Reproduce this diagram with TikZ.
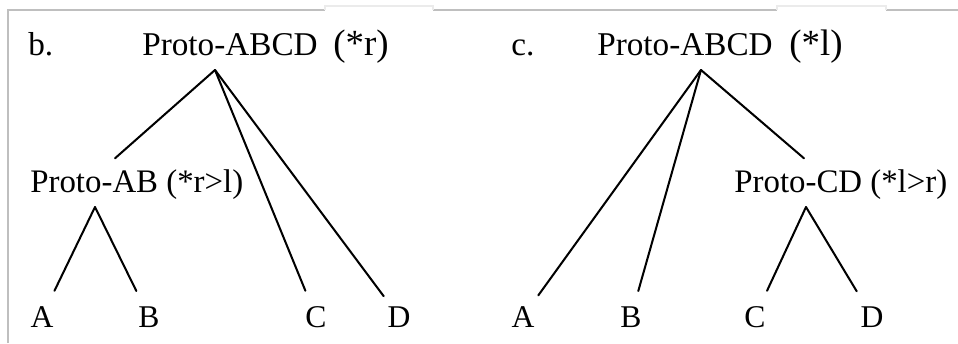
\documentclass[tikz,border=0pt]{standalone}
\usepackage{fontspec}
\setmainfont{Liberation Serif}
\usepackage{tikz}
\usetikzlibrary{positioning, calc}

\begin{document}
\begin{tikzpicture}[
    root/.style={inner sep=0pt, anchor=base west, font=\fontsize{18.9}{22}\selectfont},
    tag/.style={inner sep=0pt, anchor=base west, font=\fontsize{21}{24}\selectfont},
    mid/.style={inner xsep=0pt, inner ysep=6pt, anchor=base west, font=\fontsize{18.7}{22}\selectfont},
    leaf/.style={inner xsep=2pt, inner ysep=8.5pt, anchor=base, font=\fontsize{18}{21}\selectfont},
    branch/.style={line width=1.15pt, line cap=round},
    frame/.style={draw=black!25, line width=0.6pt}
]
    \useasboundingbox (0,0) rectangle (19.16,6.86);

    % Rahmen
    \draw[frame] (0.16,0) -- (0.16,6.66) -- (6.50,6.66);
    \draw[frame] (8.66,6.66) -- (15.54,6.66);
    \draw[frame] (17.72,6.66) -- (19.16,6.66);
    \draw[frame, draw=black!8] (6.50,6.66) -- (6.50,6.74) -- (8.66,6.74) -- (8.66,6.66);
    \draw[frame, draw=black!8] (15.54,6.66) -- (15.54,6.74) -- (17.72,6.74) -- (17.72,6.66);

    % Baum b.
    \node[root] (b-label) at (0.56,5.76) {b.};
    \node[root] (b-root) at (2.84,5.76) {Proto-ABCD};
    \node[tag] (b-tag) at (6.66,5.76) {(*r)};
    \coordinate (b-fork) at (4.30,5.46);

    \node[mid] (b-ab) at (0.60,3.02) {Proto-AB (*r>l)};
    \coordinate (b-ab-fork) at (1.90,2.72);

    \node[leaf] (b-A) at (0.84,0.32) {A};
    \node[leaf] (b-B) at (2.98,0.32) {B};
    \node[leaf] (b-C) at (6.32,0.32) {C};
    \node[leaf] (b-D) at (7.98,0.32) {D};

    \draw[branch] (b-fork) -- ([xshift=1.70cm]b-ab.north west);
    \draw[branch] (b-fork) -- (b-C);
    \draw[branch] (b-fork) -- (b-D);
    \draw[branch] (b-ab-fork) -- (b-A);
    \draw[branch] (b-ab-fork) -- (b-B);

    % Baum c.
    \node[root] (c-label) at (10.22,5.76) {c.};
    \node[root] (c-root) at (11.94,5.76) {Proto-ABCD};
    \node[tag] (c-tag) at (15.78,5.76) {(*l)};
    \coordinate (c-fork) at (14.02,5.46);

    \node[mid] (c-cd) at (14.68,3.02) {Proto-CD (*l>r)};
    \coordinate (c-cd-fork) at (16.12,2.72);

    \node[leaf] (c-A) at (10.46,0.32) {A};
    \node[leaf] (c-B) at (12.62,0.32) {B};
    \node[leaf] (c-C) at (15.10,0.32) {C};
    \node[leaf] (c-D) at (17.44,0.32) {D};

    \draw[branch] (c-fork) -- (c-A);
    \draw[branch] (c-fork) -- (c-B);
    \draw[branch] (c-fork) -- ([xshift=1.40cm]c-cd.north west);
    \draw[branch] (c-cd-fork) -- (c-C);
    \draw[branch] (c-cd-fork) -- (c-D);
\end{tikzpicture}
\end{document}
